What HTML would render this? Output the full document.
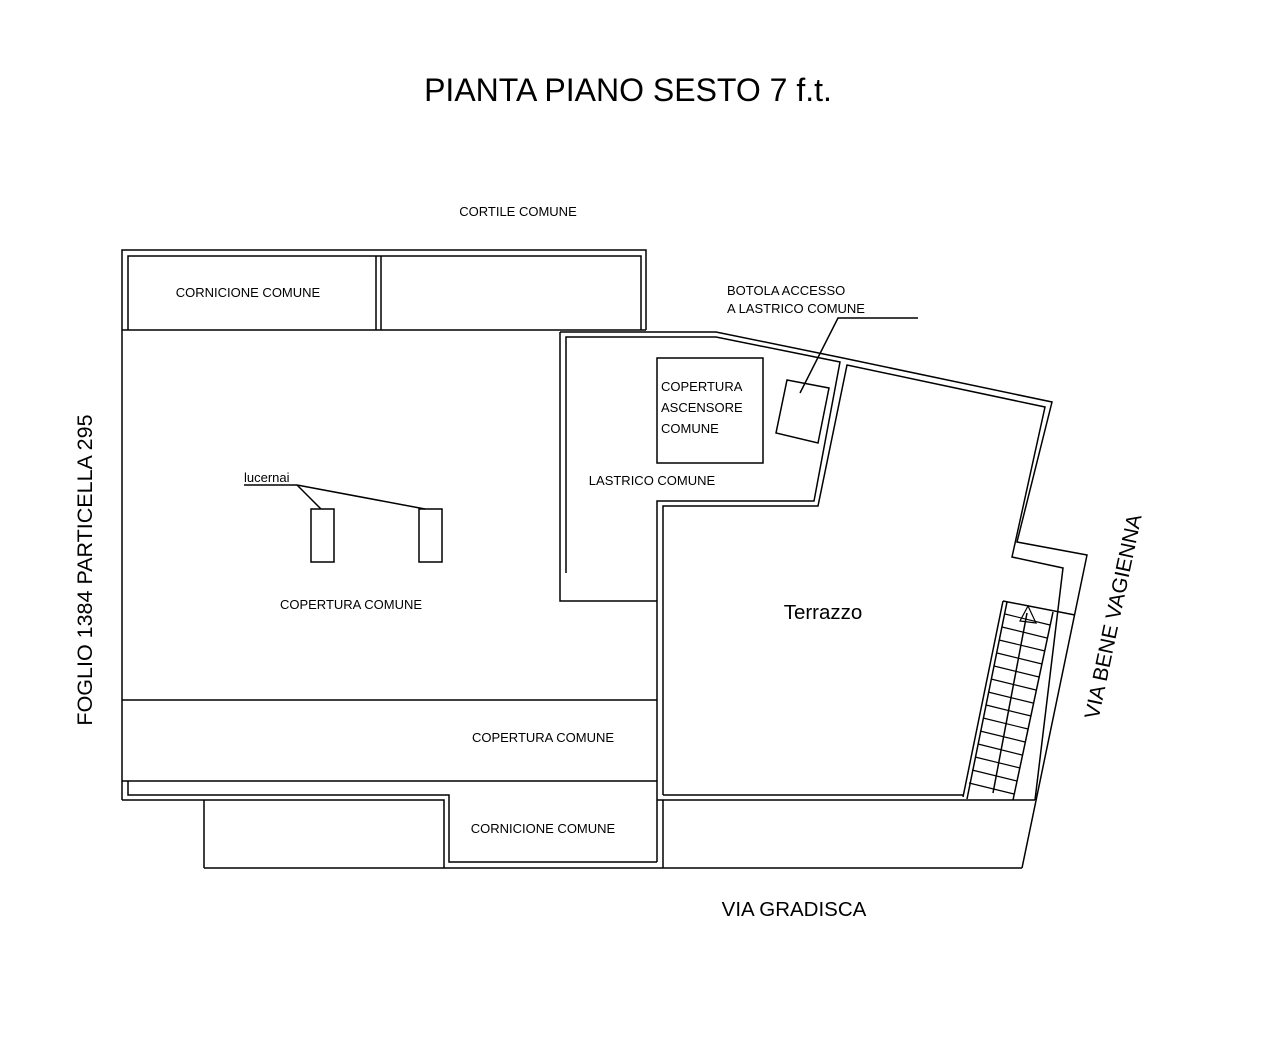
<!DOCTYPE html>
<html><head><meta charset="utf-8"><style>html,body{margin:0;padding:0;background:#fff}svg{display:block}text{font-family:"Liberation Sans",Arial,sans-serif;fill:#000}</style></head>
<body>
<svg width="1263" height="1040" viewBox="0 0 1263 1040" xmlns="http://www.w3.org/2000/svg">
<g fill="none" stroke="#000" stroke-width="1.5">
<polyline points="122,800 122,250 646,250 646,330"/>
<polyline points="128,330 128,256 641,256 641,330"/>
<line x1="376" y1="256" x2="376" y2="330"/><line x1="381" y1="256" x2="381" y2="330"/>
<line x1="122" y1="330" x2="646" y2="330"/>
<polyline points="560,332 716,332 843,358 1052,402 1017,542 1087,555 1022,868"/>
<polyline points="566,573 566,337 716,337 840,362 814,501 657,501 657,862"/>
<polyline points="560,332 560,601 657,601"/>
<polyline points="663,795 663,506 818,506 847,365 1045,407 1012,557 1063,568 1035,800"/>
<polyline points="663,795 963,795"/>
<line x1="657" y1="800" x2="1035" y2="800"/>
<line x1="663" y1="800" x2="663" y2="868"/>
<line x1="204" y1="868" x2="1022" y2="868"/>
<line x1="122" y1="700" x2="657" y2="700"/>
<line x1="122" y1="781" x2="657" y2="781"/>
<polyline points="122,800 444,800 444,868"/>
<polyline points="128,781 128,795 449,795 449,862 657,862"/>
<line x1="204" y1="800" x2="204" y2="868"/>
<rect x="657" y="358" width="106" height="105"/>
<polygon points="787,380 829,388 818,443 776,433"/>
<polyline points="800,393 838,318 918,318"/>
<rect x="311" y="509" width="23" height="53"/>
<rect x="419" y="509" width="23" height="53"/>
<line x1="244" y1="485" x2="297" y2="485"/>
<line x1="297" y1="485" x2="321" y2="509"/>
<line x1="297" y1="485" x2="425" y2="509"/>
<line x1="1003" y1="601" x2="963" y2="797"/>
<line x1="1007" y1="602" x2="967" y2="799"/>
<line x1="1053" y1="612" x2="1013" y2="800"/>
<line x1="1027" y1="613" x2="993" y2="793"/>
<line x1="1003" y1="601" x2="1075" y2="615"/>
<polygon points="1028,606 1020,621 1036,623" stroke-width="1.2"/>
</g>
<g stroke="#000" stroke-width="1.2">
<line x1="1005" y1="614" x2="1050" y2="625"/>
<line x1="1002" y1="627" x2="1047" y2="638"/>
<line x1="999" y1="640" x2="1045" y2="651"/>
<line x1="997" y1="653" x2="1042" y2="664"/>
<line x1="994" y1="666" x2="1039" y2="677"/>
<line x1="991" y1="679" x2="1036" y2="690"/>
<line x1="988" y1="692" x2="1033" y2="703"/>
<line x1="986" y1="705" x2="1031" y2="716"/>
<line x1="983" y1="718" x2="1028" y2="729"/>
<line x1="980" y1="731" x2="1025" y2="742"/>
<line x1="978" y1="744" x2="1022" y2="755"/>
<line x1="975" y1="757" x2="1020" y2="768"/>
<line x1="972" y1="770" x2="1017" y2="781"/>
<line x1="969" y1="783" x2="1014" y2="794"/>
</g>
<text x="628" y="101" font-size="32" text-anchor="middle">PIANTA PIANO SESTO 7 f.t.</text>
<text x="518" y="216" font-size="13" text-anchor="middle">CORTILE COMUNE</text>
<text x="248" y="297" font-size="13" text-anchor="middle">CORNICIONE COMUNE</text>
<text x="727" y="295" font-size="13">BOTOLA ACCESSO</text>
<text x="727" y="313" font-size="13">A LASTRICO COMUNE</text>
<text x="661" y="391" font-size="13">COPERTURA</text>
<text x="661" y="412" font-size="13">ASCENSORE</text>
<text x="661" y="433" font-size="13">COMUNE</text>
<text x="652" y="485" font-size="13" text-anchor="middle">LASTRICO COMUNE</text>
<text x="244" y="482" font-size="13">lucernai</text>
<text x="351" y="609" font-size="13" text-anchor="middle">COPERTURA COMUNE</text>
<text x="823" y="619" font-size="20.5" text-anchor="middle">Terrazzo</text>
<text x="543" y="742" font-size="13" text-anchor="middle">COPERTURA COMUNE</text>
<text x="543" y="833" font-size="13" text-anchor="middle">CORNICIONE COMUNE</text>
<text x="794" y="916" font-size="20.5" text-anchor="middle">VIA GRADISCA</text>
<text transform="translate(92,570) rotate(-90)" font-size="21.5" text-anchor="middle">FOGLIO 1384 PARTICELLA 295</text>
<text transform="translate(1120,618) rotate(-78)" font-size="21" text-anchor="middle">VIA BENE VAGIENNA</text>
</svg>
</body></html>
